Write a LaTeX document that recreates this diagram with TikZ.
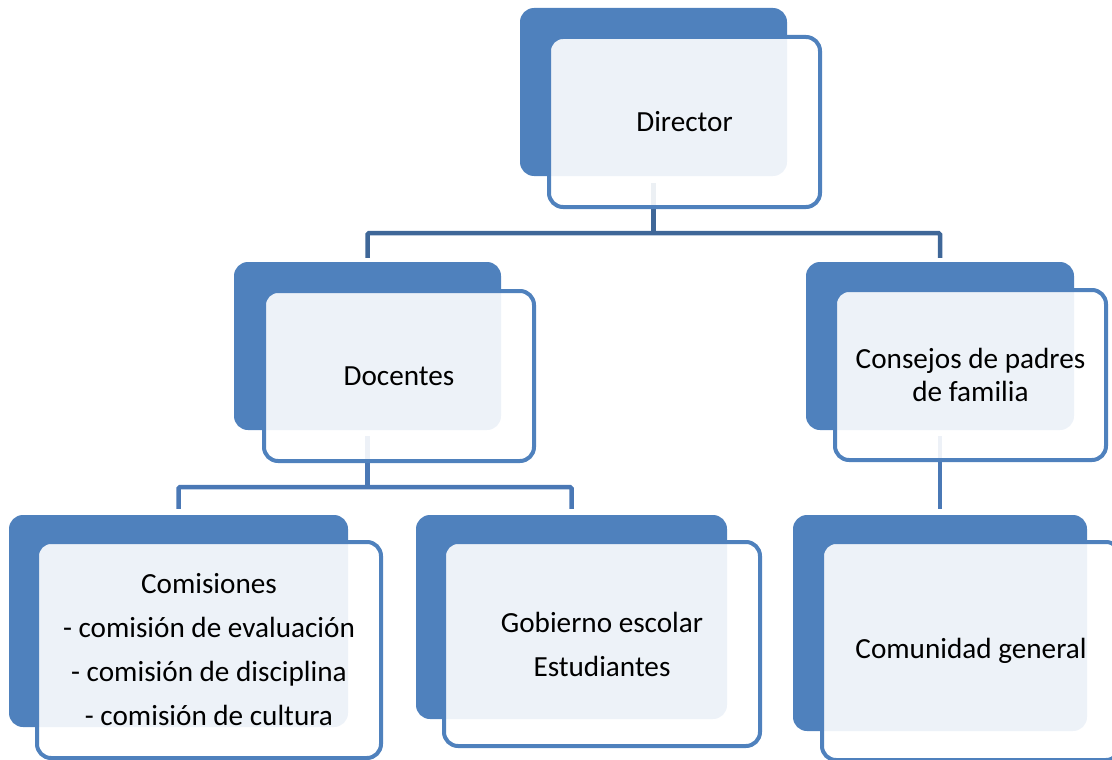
\documentclass[tikz,border=0pt]{standalone}
\usepackage{fontspec}
\setmainfont{Carlito}
\definecolor{boxBlue}{RGB}{79,129,189}
\definecolor{lineDark}{RGB}{63,103,152}
\definecolor{lineMid}{RGB}{74,120,181}
\tikzset{
  backBox/.style={rectangle, rounded corners=14pt, fill=boxBlue, inner sep=0pt},
  frontBox/.style={rectangle, rounded corners=14pt, draw=boxBlue, line width=4pt, fill=white, fill opacity=0.9, text opacity=1, align=center, inner sep=0pt, font=\fontsize{29.2}{44}\selectfont},
  topLink/.style={draw=lineDark, line width=4.5pt, rounded corners=1.5pt},
  subLink/.style={draw=lineMid, line width=4.5pt, rounded corners=1.5pt}
}

\begin{document}
\begin{tikzpicture}[x=1pt, y=-1pt]
      \useasboundingbox (0,0) rectangle (1112,760);
      \clip (0,0) rectangle (1112,760);

      \node[backBox, minimum width=267pt, minimum height=168pt] (dirB) at (653.5,92) {};
      \node[backBox, minimum width=267pt, minimum height=168pt] (docB) at (367.5,346) {};
      \node[backBox, minimum width=268pt, minimum height=168pt] (consB) at (940,346) {};
      \node[backBox, minimum width=339pt, minimum height=212pt] (comB) at (178.5,621) {};
      \node[backBox, minimum width=311pt, minimum height=204pt] (gobB) at (571.5,617) {};
      \node[backBox, minimum width=294pt, minimum height=216pt] (comuB) at (940,623) {};

      \coordinate (topBar) at (0,233);
      \coordinate (lowBar) at (0,487);

      \draw[topLink] ([yshift=-7pt]dirB.south) -- (dirB.south |- topBar);
      \draw[topLink] ([yshift=4pt]docB.north) |- (topBar -| consB.north) -- ([yshift=4pt]consB.north);

      \draw[subLink] ([yshift=-6pt]docB.south) -- (docB.south |- lowBar);
      \draw[subLink] ([yshift=6pt]comB.north) |- (lowBar -| gobB.north) -- ([yshift=6pt]gobB.north);
      \draw[subLink] ([yshift=-6pt]consB.south) -- ([yshift=6pt]comuB.north);

      \node[frontBox, minimum width=271pt, minimum height=170pt] (dir) at (684.5,122) {Director};
      \node[frontBox, minimum width=270pt, minimum height=170pt] (doc) at (399,376) {Docentes};
      \node[frontBox, minimum width=271pt, minimum height=170pt, font=\fontsize{29.2}{32.5}\selectfont] (cons) at (970.5,375) {Consejos de padres\\de familia};
      \node[frontBox, minimum width=344pt, minimum height=216pt] (com) at (209,650) {Comisiones\\- comisión de evaluación\\- comisión de disciplina\\- comisión de cultura};
      \node[frontBox, minimum width=316pt, minimum height=204pt] (gob) at (602,644) {Gobierno escolar\\Estudiantes};
      \node[frontBox, minimum width=298pt, minimum height=218pt] (comu) at (971,651) {Comunidad general};

    \end{tikzpicture}
\end{document}
